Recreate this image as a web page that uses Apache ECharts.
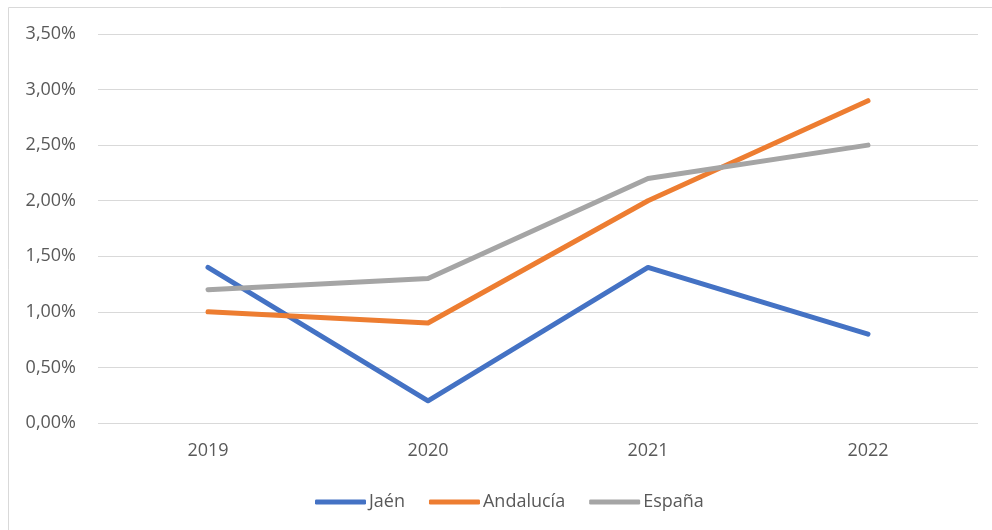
<!DOCTYPE html>
<html>
<head>
<meta charset="utf-8">
<script src="https://cdn.jsdelivr.net/npm/echarts@6/dist/echarts.min.js"></script>
<style>html,body{margin:0;padding:0;background:#fff}#c{width:992px;height:530px}</style>
</head>
<body>
<div id="c"></div>
<script>
const categories = ['2019', '2020', '2021', '2022'];
const jaen = [1.4, 0.2, 1.4, 0.8];
const andalucia = [1.0, 0.9, 2.0, 2.9];
const espana = [1.2, 1.3, 2.2, 2.5];
const seriesNames = ['Jaén', 'Andalucía', 'España'];
const colors = ['#4472C4', '#ED7D31', '#A5A5A5'];

const chart = echarts.init(document.getElementById('c'));
const fontFamily = '"Open Sans", "Liberation Sans", sans-serif';
const mk = (name, data, color) => ({
  name, type: 'line', data, symbol: 'none', smooth: false,
  lineStyle: { width: 5, color, cap: 'round', join: 'round' },
  itemStyle: { color }
});
chart.setOption({
  animation: false,
  color: colors,
  graphic: [{
    type: 'rect', shape: { x: 8.5, y: 7.5, width: 1200, height: 800 },
    style: { fill: 'none', stroke: '#D9D9D9', lineWidth: 1 }, silent: true
  }],
  grid: { left: 98, right: 14, top: 34, bottom: 107, containLabel: false },
  legend: {
    top: 488, left: 310, itemWidth: 51, itemHeight: 5, itemGap: 24,
    icon: 'roundRect',
    textStyle: { color: '#595959', fontSize: 18, fontFamily, padding: [0, 0, 0, -2] },
    data: seriesNames
  },
  xAxis: {
    type: 'category', data: categories, boundaryGap: true,
    axisLine: { show: false }, axisTick: { show: false },
    axisLabel: { color: '#595959', fontSize: 18, fontFamily, margin: 19 }
  },
  yAxis: {
    type: 'value', min: 0, max: 3.5, interval: 0.5,
    axisLine: { show: false }, axisTick: { show: false },
    splitLine: { lineStyle: { color: '#D9D9D9', width: 1 } },
    axisLabel: {
      color: '#595959', fontSize: 18, fontFamily, margin: 22,
      formatter: v => v.toFixed(2).replace('.', ',') + '%'
    }
  },
  series: [mk(seriesNames[0], jaen, colors[0]), mk(seriesNames[1], andalucia, colors[1]), mk(seriesNames[2], espana, colors[2])]
});
</script>
</body>
</html>
